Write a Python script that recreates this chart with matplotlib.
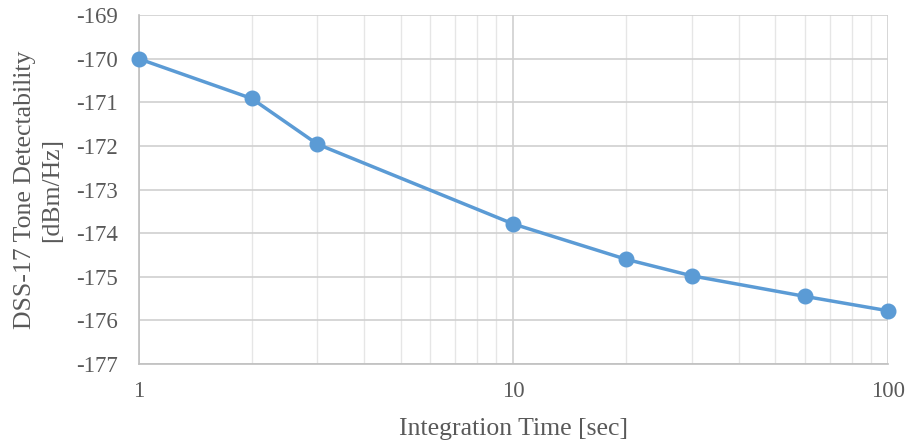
import matplotlib.pyplot as plt
from matplotlib.ticker import LogLocator, FixedLocator, NullFormatter

plt.rcParams['font.family'] = ['Liberation Serif', 'DejaVu Serif']
plt.rcParams['axes.unicode_minus'] = False

time_sec = [1, 2, 3, 10, 20, 30, 60, 100]
detectability = [-170.0, -170.91, -171.96, -173.79, -174.6, -174.98, -175.45, -175.78]
y_ticks = [-169, -170, -171, -172, -173, -174, -175, -176, -177]

fig = plt.figure(figsize=(9.07, 4.46), dpi=100)
ax = fig.add_axes([0.153, 0.184, 0.826, 0.782])

ax.plot(time_sec, detectability, color="#5b9bd5", linewidth=2.5, marker="o",
        markersize=10.5, zorder=3, clip_on=False)

ax.set_xscale("log")
ax.set_xlim(1, 100)
ax.set_ylim(-177, -169)
ax.set_yticks(y_ticks)
ax.xaxis.set_major_locator(FixedLocator([1, 10, 100]))
ax.set_xticklabels(["1", "10", "100"])
ax.xaxis.set_minor_locator(LogLocator(base=10, subs=range(2, 10)))
ax.xaxis.set_minor_formatter(NullFormatter())

ax.grid(True, which="major", color="#d0d0d0", linewidth=1.2)
ax.grid(True, which="minor", axis="x", color="#e6e6e6", linewidth=1)
ax.set_axisbelow(True)

for s in ["top", "right"]:
    ax.spines[s].set_visible(False)
for s in ["left", "bottom"]:
    ax.spines[s].set_color("#bfbfbf")
    ax.spines[s].set_linewidth(1.2)

ax.tick_params(which="both", length=0, labelsize=16.5, colors="#595959")
ax.tick_params(axis="y", pad=15)
ax.tick_params(axis="x", pad=12)
ax.set_xlabel("Integration Time [sec]", fontsize=18.5, color="#595959", labelpad=12)
ax.set_ylabel("DSS-17 Tone Detectability\n[dBm/Hz]", fontsize=18.5, color="#595959",
              labelpad=9, linespacing=1.3)

fig.savefig("out.png", dpi=100)
